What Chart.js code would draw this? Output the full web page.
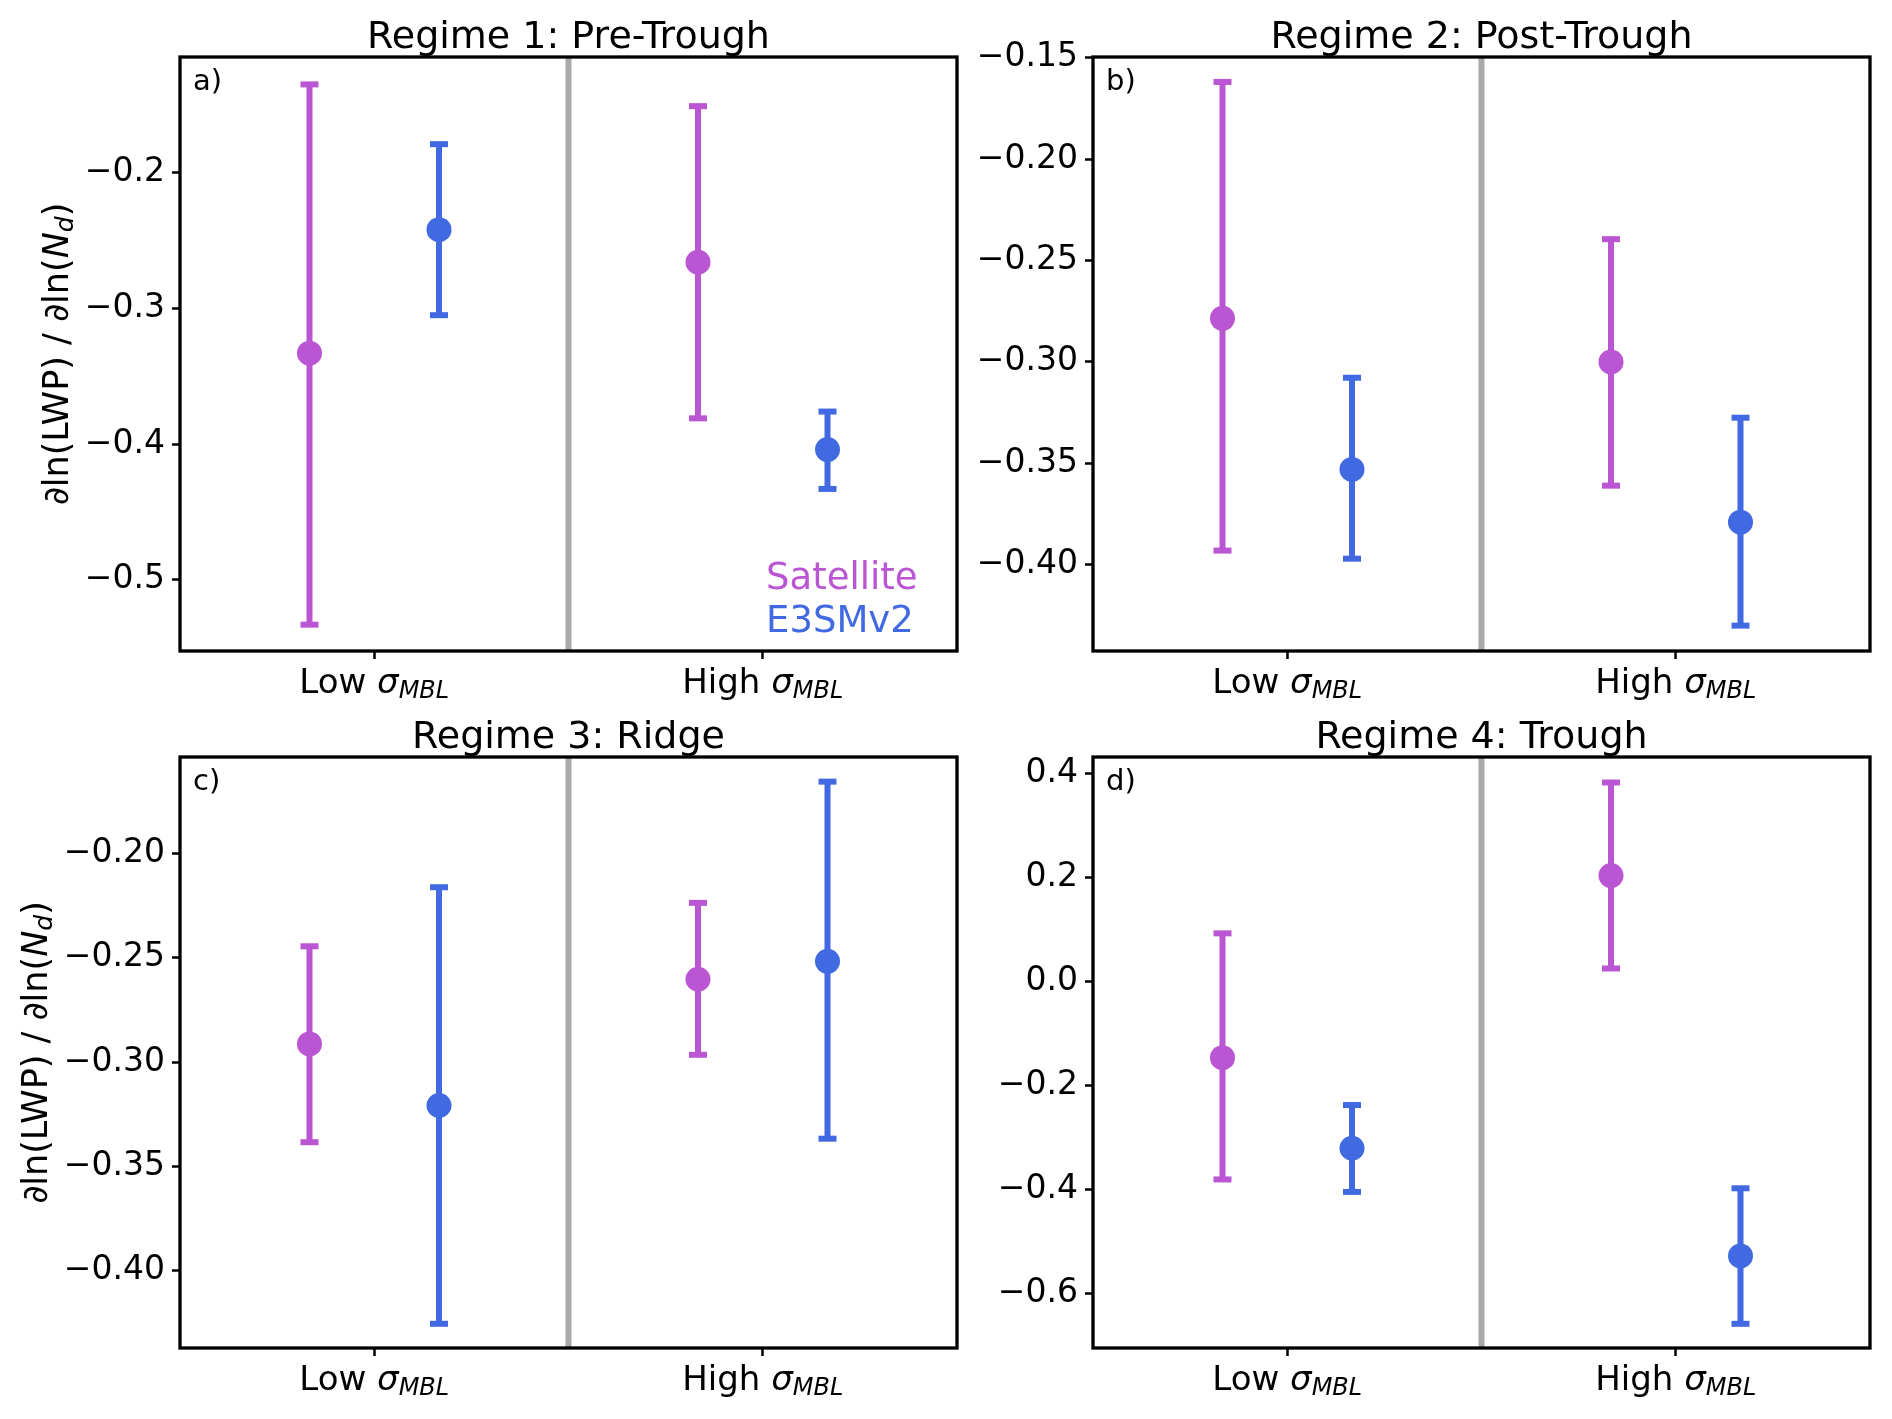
<!DOCTYPE html>
<html>
<head>
<meta charset="utf-8">
<script src="https://cdn.jsdelivr.net/npm/chart.js@4.4.1/dist/chart.umd.min.js"></script>
<style>
  html, body { margin: 0; padding: 0; background: #fff; }
  body { width: 1892px; height: 1419px; position: relative; overflow: hidden; }
  canvas { position: absolute; }
</style>
</head>
<body>
<canvas id="p0"></canvas>
<canvas id="p1"></canvas>
<canvas id="p2"></canvas>
<canvas id="p3"></canvas>
<script>
// --- data ---
const regimeTitles = ['Regime 1: Pre-Trough', 'Regime 2: Post-Trough', 'Regime 3: Ridge', 'Regime 4: Trough'];
const panelLetters = ['a)', 'b)', 'c)', 'd)'];
const categories = ['Low', 'High'];
const seriesNames = ['Satellite', 'E3SMv2'];

// one row per regime, [Low, High]
const satMean = [[-0.333, -0.266], [-0.2785, -0.300], [-0.2913, -0.2603], [-0.146, 0.204]];
const satLow  = [[-0.533, -0.381], [-0.393, -0.361], [-0.3384, -0.2965], [-0.380, 0.0255]];
const satHigh = [[-0.135, -0.151], [-0.162, -0.2395], [-0.2445, -0.2237], [0.093, 0.383]];
const e3smMean = [[-0.242, -0.404], [-0.353, -0.379], [-0.3208, -0.2517], [-0.320, -0.527]];
const e3smLow  = [[-0.305, -0.433], [-0.397, -0.430], [-0.4254, -0.3367], [-0.404, -0.6575]];
const e3smHigh = [[-0.179, -0.376], [-0.3078, -0.3275], [-0.2162, -0.1656], [-0.237, -0.397]];

const yTicks = [
  [-0.5, -0.4, -0.3, -0.2],
  [-0.40, -0.35, -0.30, -0.25, -0.20, -0.15],
  [-0.40, -0.35, -0.30, -0.25, -0.20],
  [-0.6, -0.4, -0.2, 0.0, 0.2, 0.4]
];
const yDecimals = [1, 2, 2, 1];
const yLimits = [[-0.5524, -0.1148], [-0.4425, -0.1497], [-0.437, -0.1538], [-0.704, 0.432]];

// --- style / layout ---
const SAT = '#ba55d3';
const E3SM = '#4169e1';
const FONT = '"DejaVu Sans"';
const offset = 1 / 6;
// canvas box [left, top, width, height] and axes box [L, T, R, B] on the page
const canvasBox = [[0, 0, 1000, 730], [892, 0, 1000, 730], [0, 700, 1000, 719], [892, 700, 1000, 719]];
const axesBox = [[180, 57, 957, 651], [1093, 57, 1870, 651], [180, 757, 957, 1348], [1093, 757, 1870, 1348]];

function fmt(v, dec) {
  const s = Math.abs(v).toFixed(dec);
  return (v < -1e-9 ? '\u2212' : '') + s;
}

function drawRuns(ctx, runs, x, y) {
  let total = 0;
  runs.forEach(r => { ctx.font = r.font; r.w = ctx.measureText(r.text).width; total += r.w; });
  let cx = x - total / 2;
  runs.forEach(r => { ctx.font = r.font; ctx.fillText(r.text, cx, y + (r.dy || 0)); cx += r.w; });
}

const decor = {
  id: 'decor',
  beforeDatasetsDraw(chart) {
    const { ctx, chartArea: a, scales: { x } } = chart;
    const sx = x.getPixelForValue(0.5);
    ctx.save();
    ctx.strokeStyle = '#a9a9a9';
    ctx.lineWidth = 6;
    ctx.beginPath();
    ctx.moveTo(sx, a.top);
    ctx.lineTo(sx, a.bottom);
    ctx.stroke();
    ctx.restore();
  },
  afterDraw(chart) {
    const o = chart.options.plugins.decor;
    const { ctx, chartArea: a, scales: { x } } = chart;
    ctx.save();
    // spines
    ctx.strokeStyle = '#000';
    ctx.lineWidth = 3.3;
    ctx.strokeRect(a.left, a.top, a.right - a.left, a.bottom - a.top);
    ctx.fillStyle = '#000';
    ctx.textBaseline = 'alphabetic';
    ctx.textAlign = 'left';
    // title
    drawRuns(ctx, [{ text: o.title, font: '38px ' + FONT }], (a.left + a.right) / 2, a.top - 9);
    // panel letter
    ctx.font = '29px ' + FONT;
    ctx.fillText(o.letter, a.left + 13, a.top + 33);
    // x tick labels
    categories.forEach((c, k) => {
      drawRuns(ctx, [
        { text: c + ' ', font: '34px ' + FONT },
        { text: '\u03c3', font: 'italic 34px ' + FONT },
        { text: 'MBL', font: 'italic 24px ' + FONT, dy: 5 }
      ], x.getPixelForValue(k), a.bottom + 42);
    });
    // y label
    if (o.ylabel) {
      ctx.font = '33px ' + FONT;
      const wmax = Math.max(...o.ticks.map(v => ctx.measureText(fmt(v, o.dec)).width));
      const bx = a.left - 8 - 7 - wmax - 17;
      ctx.save();
      ctx.translate(bx, (a.top + a.bottom) / 2);
      ctx.rotate(-Math.PI / 2);
      drawRuns(ctx, [
        { text: '\u2202ln(LWP) / \u2202ln(', font: '35px ' + FONT },
        { text: 'N', font: 'italic 35px ' + FONT },
        { text: 'd', font: 'italic 25px ' + FONT, dy: 5 },
        { text: ')', font: '35px ' + FONT }
      ], 0, 0);
      ctx.restore();
    }
    // legend text
    if (o.legend) {
      ctx.font = '37px ' + FONT;
      ctx.fillStyle = SAT;
      ctx.fillText(seriesNames[0], 766, 589);
      ctx.fillStyle = E3SM;
      ctx.fillText(seriesNames[1], 766, 632);
    }
    ctx.restore();
  }
};

function errorSet(xv, lo, hi, color) {
  return {
    data: [{ x: xv, y: lo }, { x: xv, y: hi }],
    showLine: true,
    borderColor: color,
    borderWidth: 6,
    borderCapStyle: 'butt',
    pointStyle: 'line',
    pointRadius: 9,
    pointBorderWidth: 6,
    pointBorderColor: color,
    pointBackgroundColor: color
  };
}

function makePanel(i) {
  const [ox, oy, W, H] = canvasBox[i];
  const [L, T, R, B] = axesBox[i];
  const cv = document.getElementById('p' + i);
  cv.width = W; cv.height = H;
  cv.style.left = ox + 'px'; cv.style.top = oy + 'px';
  cv.style.width = W + 'px'; cv.style.height = H + 'px';

  const datasets = [
    {
      data: categories.map((c, k) => ({ x: k - offset, y: satMean[i][k] })),
      backgroundColor: SAT, borderColor: SAT, pointRadius: 12.5, borderWidth: 0
    },
    {
      data: categories.map((c, k) => ({ x: k + offset, y: e3smMean[i][k] })),
      backgroundColor: E3SM, borderColor: E3SM, pointRadius: 12.5, borderWidth: 0
    }
  ];
  categories.forEach((c, k) => {
    datasets.push(errorSet(k - offset, satLow[i][k], satHigh[i][k], SAT));
    datasets.push(errorSet(k + offset, e3smLow[i][k], e3smHigh[i][k], E3SM));
  });

  new Chart(cv.getContext('2d'), {
    type: 'scatter',
    data: { datasets },
    plugins: [decor],
    options: {
      responsive: false,
      devicePixelRatio: 1,
      animation: false,
      events: [],
      layout: { padding: { left: 0, top: T - oy, right: ox + W - R, bottom: 0 } },
      plugins: {
        legend: { display: false },
        tooltip: { enabled: false },
        decor: {
          title: regimeTitles[i], letter: panelLetters[i],
          legend: i === 0, ylabel: i % 2 === 0, ticks: yTicks[i], dec: yDecimals[i]
        }
      },
      scales: {
        x: {
          type: 'linear', min: -0.5, max: 1.5,
          afterBuildTicks: s => { s.ticks = categories.map((c, k) => ({ value: k })); },
          afterFit: s => { s.height = oy + H - B; },
          border: { display: false },
          grid: { drawOnChartArea: false, drawTicks: true, tickLength: 8, tickWidth: 2.5, tickColor: '#000' },
          ticks: { display: false }
        },
        y: {
          min: yLimits[i][0], max: yLimits[i][1],
          afterBuildTicks: s => { s.ticks = yTicks[i].map(v => ({ value: v })); },
          afterFit: s => { s.width = L - ox; },
          border: { display: false },
          grid: { drawOnChartArea: false, drawTicks: true, tickLength: 8, tickWidth: 2.5, tickColor: '#000' },
          ticks: {
            color: '#000', padding: 7, autoSkip: false,
            font: { family: 'DejaVu Sans', size: 33 },
            callback: v => fmt(v, yDecimals[i])
          }
        }
      }
    }
  });
}

[0, 1, 2, 3].forEach(makePanel);
</script>
</body>
</html>
